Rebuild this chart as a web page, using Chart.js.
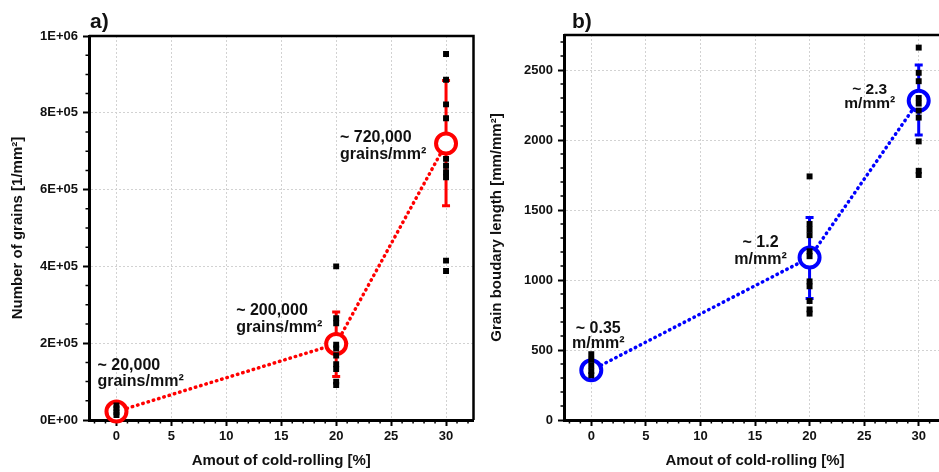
<!DOCTYPE html>
<html>
<head>
<meta charset="utf-8">
<script src="https://cdn.jsdelivr.net/npm/chart.js@4.4.1/dist/chart.umd.min.js"></script>
<style>
  html, body { margin: 0; padding: 0; background: #fff; overflow: hidden; width: 939px; height: 472px; }
  canvas { position: absolute; top: 0; }
  #chartA { left: 0; }
  #chartB { left: 470px; }
</style>
</head>
<body>
<canvas id="chartA" width="478" height="472"></canvas>
<canvas id="chartB" width="485" height="472"></canvas>
<script>
// ---------------- data ----------------
const COLD_ROLLING = [0, 20, 30];
const X_TICKS = [0, 5, 10, 15, 20, 25, 30];

// a) number of grains [1/mm2]
const GRAINS_MEAN = [22000, 198000, 720000];
const GRAINS_ERR_HI = [32000, 281000, 884000];
const GRAINS_ERR_LO = [12000, 113000, 558000];
const GRAINS_RAW = [
  [38000, 30000, 20000, 13000],
  [400000, 265000, 252000, 196000, 186000, 168000, 145000, 133000, 100000, 91000],
  [953000, 886000, 822000, 786000, 680000, 662000, 645000, 632000, 415000, 388000]
];
const GRAINS_TICKS = [0, 200000, 400000, 600000, 800000, 1000000];
const GRAINS_TICK_LABELS = ['0E+00', '2E+05', '4E+05', '6E+05', '8E+05', '1E+06'];
const GRAINS_NOTES = [
  ['~ 20,000', 'grains/mm²'],
  ['~ 200,000', 'grains/mm²'],
  ['~ 720,000', 'grains/mm²']
];

// b) grain boundary length [mm/mm2]
const GB_MEAN = [355, 1160, 2280];
const GB_ERR_HI = [410, 1446, 2536];
const GB_ERR_LO = [300, 867, 2036];
const GB_RAW = [
  [470, 430, 390, 350, 320],
  [1740, 1400, 1360, 1320, 1205, 1170, 990, 955, 850, 790, 760],
  [2660, 2480, 2420, 2300, 2260, 2210, 2160, 1990, 1780, 1750]
];
const GB_TICKS = [0, 500, 1000, 1500, 2000, 2500];
const GB_NOTES = [
  ['~ 0.35', 'm/mm²'],
  ['~ 1.2', 'm/mm²'],
  ['~ 2.3', 'm/mm²']
];

// ---------------- helpers ----------------
const FONT = "'Liberation Sans', Arial, sans-serif";

function rawPoints(raw) {
  const pts = [];
  raw.forEach((vals, i) => vals.forEach(v => pts.push({ x: COLD_ROLLING[i], y: v })));
  return pts;
}

function meanPoints(means) {
  return means.map((v, i) => ({ x: COLD_ROLLING[i], y: v }));
}

// error bars, frame, minor ticks, annotations, panel letter
function makeDecor(cfg) {
  return {
    id: 'decor',
    beforeDatasetsDraw(chart) {
      const { ctx, scales: { x, y } } = chart;
      ctx.save();
      ctx.strokeStyle = cfg.color;
      ctx.lineWidth = 3;
      COLD_ROLLING.forEach((xv, i) => {
        const px = x.getPixelForValue(xv);
        const top = y.getPixelForValue(cfg.hi[i]);
        const bot = y.getPixelForValue(cfg.lo[i]);
        ctx.beginPath();
        ctx.moveTo(px, top); ctx.lineTo(px, bot);
        ctx.moveTo(px - 4, top); ctx.lineTo(px + 4, top);
        ctx.moveTo(px - 4, bot); ctx.lineTo(px + 4, bot);
        ctx.stroke();
      });
      ctx.restore();
    },
    afterDraw(chart) {
      const { ctx, chartArea: a, scales: { x, y } } = chart;
      ctx.save();
      // top / right frame
      ctx.strokeStyle = '#000';
      ctx.lineWidth = 2.5;
      ctx.beginPath();
      ctx.moveTo(a.left, a.top); ctx.lineTo(a.right, a.top); ctx.lineTo(a.right, a.bottom);
      ctx.stroke();

      // minor ticks
      ctx.lineWidth = 1.5;
      ctx.beginPath();
      for (let v = Math.ceil(x.min); v <= x.max; v += 1) {
        if (v % 5 === 0) continue;
        const p = x.getPixelForValue(v);
        ctx.moveTo(p, a.bottom); ctx.lineTo(p, a.bottom + 3.5);
      }
      const n = Math.floor((y.max - y.min) / cfg.yMinor + 1e-9);
      for (let k = 0; k <= n; k++) {
        const v = y.min + k * cfg.yMinor;
        if (Math.abs(v / cfg.yMajor - Math.round(v / cfg.yMajor)) < 1e-6) continue;
        const p = y.getPixelForValue(v);
        ctx.moveTo(a.left, p); ctx.lineTo(a.left - 3.5, p);
      }
      ctx.stroke();

      // annotations
      ctx.fillStyle = '#111';
      ctx.textBaseline = 'middle';
      cfg.notes.forEach((lines, i) => {
        const pos = cfg.notePos[i];
        const px = x.getPixelForValue(COLD_ROLLING[i]) + pos.dx;
        const py = y.getPixelForValue(cfg.means[i]);
        ctx.font = 'bold ' + (pos.size || 16) + 'px ' + FONT;
        ctx.textAlign = pos.align;
        lines.forEach((t, k) => ctx.fillText(t, px, py + pos.dy[k]));
      });

      // panel letter
      ctx.font = 'bold 21px ' + FONT;
      ctx.textAlign = 'left';
      ctx.fillText(cfg.letter, a.left + cfg.letterDx, 22);
      ctx.restore();
    }
  };
}

function makeChart(id, c) {
  return new Chart(document.getElementById(id), {
    type: 'scatter',
    data: {
      datasets: [
        {
          data: rawPoints(c.raw),
          pointStyle: 'rect',
          pointRadius: 4.2,
          backgroundColor: '#000',
          borderWidth: 0,
          order: 0
        },
        {
          data: meanPoints(c.means),
          showLine: true,
          borderColor: c.color,
          borderWidth: 3.5,
          borderDash: [0.5, 5],
          borderCapStyle: 'round',
          pointRadius: 10,
          pointBorderWidth: 4,
          pointBorderColor: c.color,
          pointBackgroundColor: '#fff',
          clip: false,
          order: 1
        }
      ]
    },
    options: {
      responsive: false,
      animation: false,
      events: [],
      layout: { autoPadding: false, padding: { top: c.padTop, right: c.padRight, left: 0, bottom: 0 } },
      plugins: { legend: { display: false }, tooltip: { enabled: false } },
      scales: {
        x: {
          type: 'linear',
          min: -2.5,
          max: 32.5,
          afterBuildTicks: s => { s.ticks = X_TICKS.map(v => ({ value: v })); },
          afterFit: s => { s.height = 52; },
          ticks: {
            autoSkip: false,
            maxRotation: 0,
            padding: 3,
            color: '#111',
            font: { family: FONT, size: 13, weight: 'bold' },
            callback: v => String(v)
          },
          grid: { color: '#d2d2d2', lineWidth: 1, tickLength: 6, tickColor: '#000', tickWidth: 2 },
          border: { color: '#000', width: 3, dash: [2, 2] },
          title: {
            display: true,
            text: 'Amout of cold-rolling [%]',
            color: '#111',
            font: { family: FONT, size: 15, weight: 'bold' },
            padding: { top: 0, bottom: 2 }
          }
        },
        y: {
          type: 'linear',
          min: c.yMin,
          max: c.yMax,
          afterBuildTicks: s => { s.ticks = c.yTicks.map(v => ({ value: v })); },
          afterFit: s => { s.width = c.yWidth; },
          ticks: {
            autoSkip: false,
            padding: 5,
            color: '#111',
            font: { family: FONT, size: 13, weight: 'bold' },
            callback: c.yLabel
          },
          grid: { color: '#d2d2d2', lineWidth: 1, tickLength: 6, tickColor: '#000', tickWidth: 2 },
          border: { color: '#000', width: 3, dash: [2, 2] },
          title: {
            display: true,
            text: c.yTitle,
            color: '#111',
            font: { family: FONT, size: 15, weight: 'bold' },
            padding: { top: c.yTitlePad, bottom: 0 }
          }
        }
      }
    },
    plugins: [makeDecor({
      color: c.color, hi: c.hi, lo: c.lo, means: c.means,
      notes: c.notes, notePos: c.notePos,
      yMinor: c.yMinor, yMajor: c.yMajor,
      letter: c.letter, letterDx: c.letterDx
    })]
  });
}

// ---------------- a) ----------------
makeChart('chartA', {
  raw: GRAINS_RAW, means: GRAINS_MEAN, hi: GRAINS_ERR_HI, lo: GRAINS_ERR_LO,
  color: '#ff0000',
  yMin: 0, yMax: 1000000, yTicks: GRAINS_TICKS, yMinor: 50000, yMajor: 200000,
  yLabel: v => GRAINS_TICK_LABELS[GRAINS_TICKS.indexOf(v)],
  yTitle: 'Number of grains [1/mm²]', yTitlePad: 9, yWidth: 89,
  padTop: 36, padRight: 4.5,
  notes: GRAINS_NOTES,
  notePos: [
    { align: 'left', dx: -19, dy: [-46, -30] },
    { align: 'left', dx: -100, dy: [-33, -16] },
    { align: 'left', dx: -106, dy: [-6, 11] }
  ],
  letter: 'a)', letterDx: 1
});

// ---------------- b) ----------------
makeChart('chartB', {
  raw: GB_RAW, means: GB_MEAN, hi: GB_ERR_HI, lo: GB_ERR_LO,
  color: '#0000ff',
  yMin: 0, yMax: 2750, yTicks: GB_TICKS, yMinor: 100, yMajor: 500,
  yLabel: v => String(v),
  yTitle: 'Grain boudary length [mm/mm²]', yTitlePad: 18, yWidth: 94,
  padTop: 35, padRight: 9,
  notes: GB_NOTES,
  notePos: [
    { align: 'center', dx: 7, dy: [-42, -27] },
    { align: 'center', dx: -49, dy: [-15, 2] },
    { align: 'center', dx: -49, dy: [-11, 3], size: 15.5 }
  ],
  letter: 'b)', letterDx: 8
});
</script>
</body>
</html>
